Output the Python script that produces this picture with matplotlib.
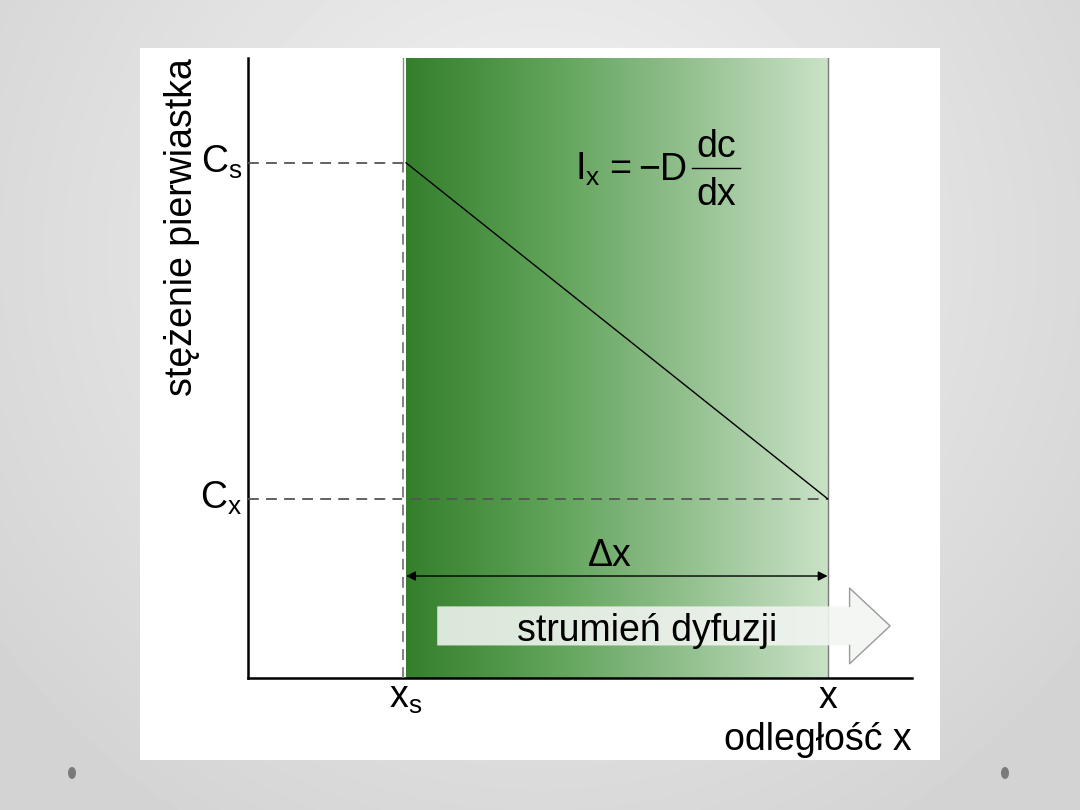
import matplotlib
matplotlib.use('Agg')
import matplotlib.pyplot as plt
import numpy as np
from matplotlib.colors import LinearSegmentedColormap
from matplotlib.patches import Polygon, Ellipse

plt.rcParams['font.family'] = ['Liberation Sans', 'DejaVu Sans']
plt.rcParams['mathtext.fontset'] = 'custom'
plt.rcParams['mathtext.rm'] = 'Liberation Sans'
plt.rcParams['mathtext.it'] = 'Liberation Sans'

# dane schematu (jednostki umowne)
x_s = 2.38          # poczatek warstwy
x_end = 8.73        # odleglosc x
c_s = 8.31          # stezenie na powierzchni
c_x = 2.89          # stezenie w odleglosci x
profile_x = [x_s, x_end]
profile_c = [c_s, c_x]

FS = 27

fig = plt.figure(figsize=(10.8, 8.1), dpi=100)

# tlo slajdu
bg = fig.add_axes([0, 0, 1, 1])
bg.set_xlim(0, 1080)
bg.set_ylim(810, 0)
bg.axis('off')
yy, xx = np.mgrid[0:810, 0:1080]
r = np.sqrt(((xx - 540) / 650.0) ** 2 + ((yy - 250) / 650.0) ** 2)
grad = np.clip(0.955 - 0.12 * r, 0.83, 0.955)
bg.imshow(grad, cmap='gray', vmin=0, vmax=1, extent=(0, 1080, 810, 0), aspect='auto')
bg.add_patch(plt.Rectangle((140, 48), 800, 712, facecolor='white', edgecolor='none'))
for cx in (72, 1005):
    bg.add_patch(Ellipse((cx, 773), 8, 12, facecolor='#7a7a7a', edgecolor='none'))

# wykres
ax = fig.add_axes([248 / 1080, (810 - 678) / 810, (912 - 248) / 1080, (678 - 58) / 810])
ax.set_xlim(0, 10)
ax.set_ylim(0, 10)
ax.patch.set_alpha(0)
for s in ('top', 'right'):
    ax.spines[s].set_visible(False)
for s in ('left', 'bottom'):
    ax.spines[s].set_linewidth(1.8)
ax.set_xticks([])
ax.set_yticks([])

# gradient zieleni
green = LinearSegmentedColormap.from_list('g', ['#347f2c', '#5ea257', '#93c08f', '#c9e2c6'])
ax.imshow(np.linspace(0, 1, 256).reshape(1, -1), cmap=green, aspect='auto',
          extent=(x_s, x_end, 0, 10), zorder=1)
ax.plot([x_s - 0.04, x_s - 0.04], [c_s, 10], color='#8a8a8a', lw=1.0, zorder=2)
ax.plot([x_end, x_end], [0, 10], color='#7a7a7a', lw=1.0, zorder=2)

# linie pomocnicze
dash = dict(color='#555555', lw=1.3, dashes=(6, 4), zorder=3)
ax.plot([0, x_s], [c_s, c_s], **dash)
ax.plot([0, x_end], [c_x, c_x], **dash)
ax.plot([x_s - 0.04, x_s - 0.04], [0, c_s], color='#777777', lw=1.3, dashes=(6, 4),
        gapcolor='white', zorder=3)

# profil stezenia
ax.plot(profile_x, profile_c, color='black', lw=1.0, zorder=4)

# etykiety osi
ax.text(-0.08, c_s, r'C$_{\rm s}$', fontsize=FS, ha='right', va='center')
ax.text(-0.08, c_x, r'C$_{\rm x}$', fontsize=FS, ha='right', va='center')
ax.text(x_s, -0.03, r'x$_{\rm s}$', fontsize=FS, ha='center', va='top')
ax.text(x_end, -0.03, 'x', fontsize=FS, ha='center', va='top')
ax.text(1.0, -0.1, 'odległość x', fontsize=FS, ha='right', va='center',
        transform=ax.transAxes)
ax.text(-0.1, 0.727, 'stężenie pierwiastka', fontsize=FS, rotation=90,
        ha='center', va='center', transform=ax.transAxes)

# wzor
ax.text(4.93, 8.03, r'I$_{\rm x}$', fontsize=FS, ha='left', va='baseline', zorder=5)
ax.text(5.60, 8.03, '=', fontsize=FS, ha='center', va='baseline', zorder=5)
ax.text(5.88, 8.03, '−D', fontsize=FS, ha='left', va='baseline', zorder=5)
ax.text(7.05, 8.40, 'dc', fontsize=FS, ha='center', va='baseline', zorder=5)
ax.text(7.05, 7.63, 'dx', fontsize=FS, ha='center', va='baseline', zorder=5)
ax.plot([6.69, 7.41], [8.23, 8.23], color='black', lw=1.0, zorder=5)

# delta x
y_dx = 1.645
ax.annotate('', xy=(x_end, y_dx), xytext=(x_s, y_dx),
            arrowprops=dict(arrowstyle='<|-|>', color='black', lw=1.0,
                            mutation_scale=14, shrinkA=0, shrinkB=0), zorder=5)
ax.text((x_s + x_end) / 2 - 0.1, y_dx + 0.33, 'Δx', fontsize=FS, ha='center', va='center', zorder=5)

# strzalka strumienia
b0, b1, h1 = x_s + 0.47, x_end + 0.33, x_end + 0.94
yc, bh, hh = 0.84, 0.315, 0.61
body = [(b0, yc + bh), (b1, yc + bh), (b1, yc + hh), (h1, yc), (b1, yc - hh),
        (b1, yc - bh), (b0, yc - bh)]
ax.add_patch(Polygon(body, closed=True, facecolor='#f2f5f2', alpha=0.88,
                     edgecolor='none', zorder=4, clip_on=False))
ax.plot([b1, b1, h1, b1, b1], [yc + bh, yc + hh, yc, yc - hh, yc - bh],
        color='#9a9a9a', lw=1.0, zorder=4, clip_on=False)
ax.text((b0 + b1) / 2 + 0.05, yc - 0.08, 'strumień dyfuzji', fontsize=FS, ha='center',
        va='center', zorder=5)

fig.savefig('out.png', dpi=100)
